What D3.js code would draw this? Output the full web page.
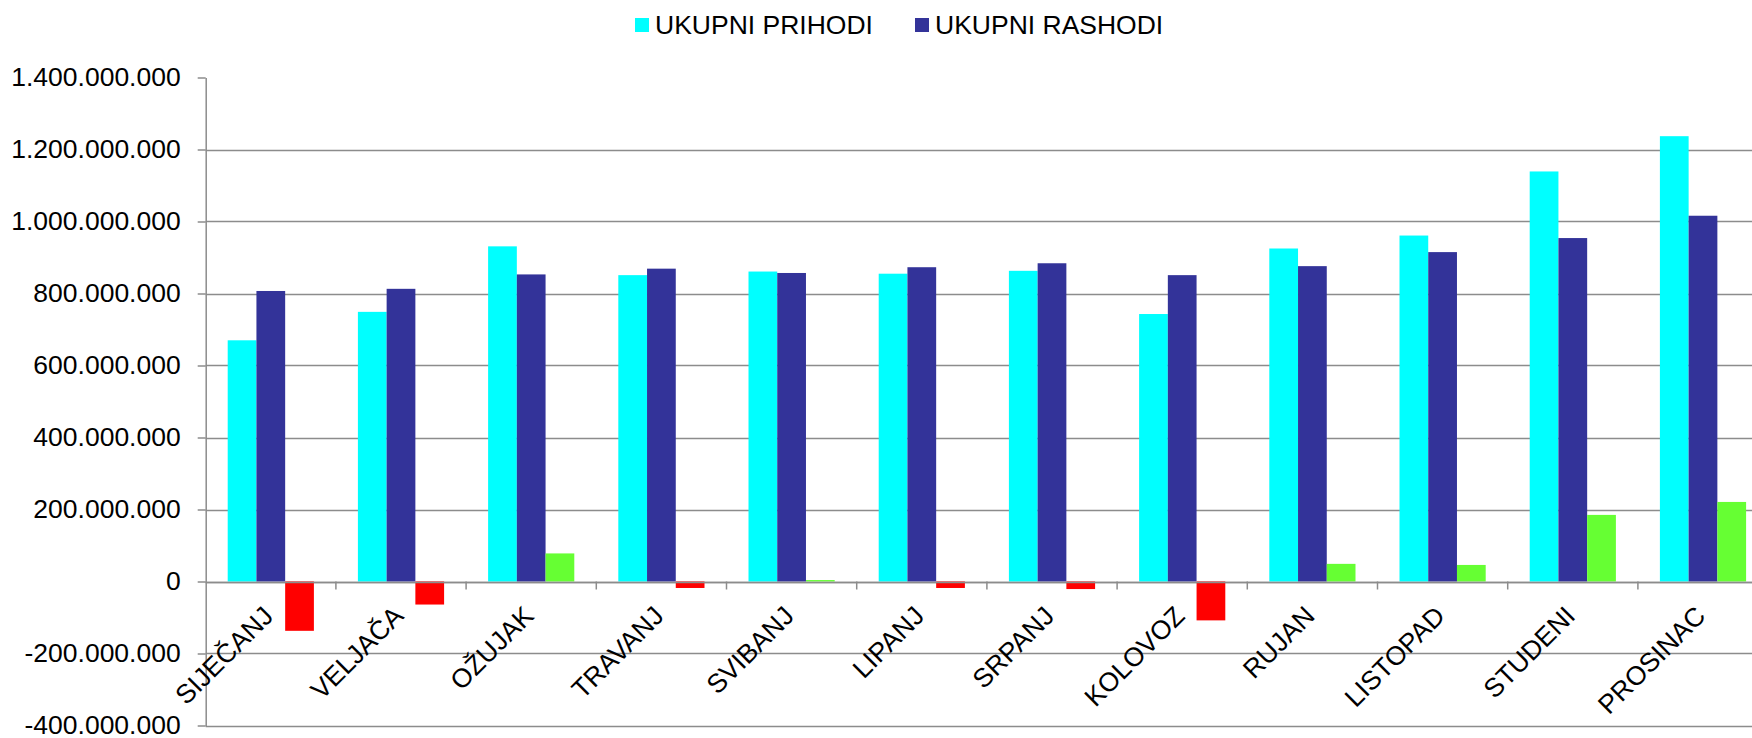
<!DOCTYPE html>
<html>
<head>
<meta charset="utf-8">
<script src="https://cdn.jsdelivr.net/npm/d3@7"></script>
<style>
    body { margin: 0; background: #fff; }
    svg { display: block; font-family: 'Liberation Sans', Arial, sans-serif; }
    .grid line { stroke: #8c8c8c; stroke-width: 1.5; }
    .axis path, .axis line { stroke: #8c8c8c; stroke-width: 1.5; }
    text { fill: #000; font-size: 26.5px; }
</style>
</head>
<body>
<svg id="chart" width="1752" height="738"></svg>
<script>
const months = ['SIJEČANJ', 'VELJAČA', 'OŽUJAK', 'TRAVANJ', 'SVIBANJ', 'LIPANJ',
    'SRPANJ', 'KOLOVOZ', 'RUJAN', 'LISTOPAD', 'STUDENI', 'PROSINAC'];

// values in millions
const prihodi = [670, 749, 931, 851, 861, 855, 863, 743, 925, 961, 1139, 1237];
const rashodi = [807, 813, 853, 869, 857, 873, 884, 851, 876, 915, 954, 1016];
const razlika = [-137, -64, 78, -18, 4, -18, -21, -108, 49, 46, 185, 221];

const seriesNames = ['UKUPNI PRIHODI', 'UKUPNI RASHODI', 'RAZLIKA'];
const yTicks = [-400, -200, 0, 200, 400, 600, 800, 1000, 1200, 1400];

const colors = {prihodi: '#00ffff', rashodi: '#333399', plus: '#66ff33', minus: '#ff0000'};

const svg = d3.select('#chart');
const width = +svg.attr('width');

const left = 205.7;
const step = 130.2;

const x = d3.scaleBand()
    .domain(months)
    .range([left, left + step * months.length])
    .paddingInner(0.338)
    .paddingOuter(0.169);

const x1 = d3.scaleBand()
    .domain(['prihodi', 'rashodi', 'razlika'])
    .range([0, x.bandwidth()]);

const y = d3.scaleLinear()
    .domain([-400, 1400])
    .range([725.5, 77.5]);

const locale = d3.formatLocale({decimal: ',', thousands: '.', grouping: [3], currency: ['', ''], minus: '-'});
const fmt = locale.format(',d');

// gridlines (none at the top value)
svg.append('g')
    .attr('class', 'grid')
    .selectAll('line')
    .data(yTicks.filter(d => d < 1400))
    .enter().append('line')
    .attr('x1', left)
    .attr('x2', width)
    .attr('y1', d => Math.round(y(d)) + 0.5)
    .attr('y2', d => Math.round(y(d)) + 0.5);

// bars
const rows = months.map((m, i) => ({month: m, prihodi: prihodi[i], rashodi: rashodi[i], razlika: razlika[i]}));

const group = svg.append('g')
    .selectAll('g')
    .data(rows)
    .enter().append('g')
    .attr('transform', d => `translate(${x(d.month)},0)`);

group.selectAll('rect')
    .data(d => ['prihodi', 'rashodi', 'razlika'].map(k => ({key: k, value: d[k]})))
    .enter().append('rect')
    .attr('x', d => x1(d.key))
    .attr('width', x1.bandwidth())
    .attr('y', d => y(Math.max(0, d.value)))
    .attr('height', d => Math.abs(y(d.value) - y(0)))
    .attr('fill', d => {
        if (d.key === 'razlika') { return d.value < 0 ? colors.minus : colors.plus; }
        return colors[d.key];
    });

// y axis
const yAxis = svg.append('g')
    .attr('class', 'axis')
    .attr('transform', `translate(${left},0)`)
    .call(d3.axisLeft(y).tickValues(yTicks).tickFormat(d => fmt(d * 1e6)).tickSize(8).tickSizeOuter(0).tickPadding(17));

yAxis.selectAll('text').style('font-size', '26.5px').attr('fill', '#000');

// x axis along zero
const xAxis = svg.append('g').attr('class', 'axis');

xAxis.append('line')
    .attr('x1', left)
    .attr('x2', width)
    .attr('y1', Math.round(y(0)) + 0.5)
    .attr('y2', Math.round(y(0)) + 0.5);

xAxis.selectAll('.tick')
    .data(d3.range(1, months.length + 1))
    .enter().append('line')
    .attr('x1', k => left + k * step)
    .attr('x2', k => left + k * step)
    .attr('y1', y(0))
    .attr('y2', y(0) + 8);

svg.append('g')
    .selectAll('text')
    .data(months)
    .enter().append('text')
    .attr('text-anchor', 'end')
    .attr('transform', d => `translate(${x(d) + x.bandwidth() / 2 + 4},${y(0) + 36}) rotate(-45)`)
    .text(d => d);

// legend (only the first two series are listed)
const legendItems = [
    {name: seriesNames[0], color: colors.prihodi, x: 635},
    {name: seriesNames[1], color: colors.rashodi, x: 915}
];

const legend = svg.append('g')
    .selectAll('g')
    .data(legendItems)
    .enter().append('g')
    .attr('transform', d => `translate(${d.x},0)`);

legend.append('rect')
    .attr('y', 18)
    .attr('width', 14)
    .attr('height', 14)
    .attr('fill', d => d.color);

legend.append('text')
    .attr('x', 20)
    .attr('y', 33.5)
    .text(d => d.name);
</script>
</body>
</html>
